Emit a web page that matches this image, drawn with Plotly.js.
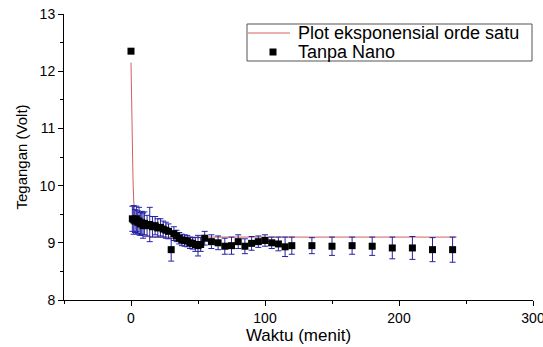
<!DOCTYPE html>
<html>
<head>
<meta charset="utf-8">
<script src="https://cdn.plot.ly/plotly-3.0.1.min.js"></script>
<style>html,body{margin:0;padding:0;background:#fff;}#chart{width:543px;height:347px;}</style>
</head>
<body>
<div id="chart"></div>
<script>
// Measured data: Tanpa Nano
var waktu = [0, 1, 2, 3, 4, 5, 6, 7, 8, 9, 10, 12, 14, 16, 18, 20, 22, 24, 26, 28, 30, 32, 34, 36, 38, 40, 42, 44, 46, 48, 50, 52, 55, 60, 65, 70, 75, 80, 85, 90, 95, 100, 105, 110, 115, 120, 135, 150, 165, 180, 195, 210, 225, 240];
var tegangan = [12.35, 9.42, 9.40, 9.38, 9.42, 9.36, 9.38, 9.33, 9.35, 9.30, 9.34, 9.30, 9.32, 9.28, 9.30, 9.26, 9.27, 9.24, 9.22, 9.20, 8.88, 9.16, 9.12, 9.08, 9.05, 9.04, 9.03, 9.00, 8.99, 8.97, 8.95, 8.97, 9.08, 9.02, 9.00, 8.94, 8.95, 9.02, 8.94, 8.99, 9.02, 9.04, 9.00, 8.98, 8.93, 8.95, 8.95, 8.94, 8.95, 8.94, 8.91, 8.91, 8.88, 8.88];
var galat = [0, 0.22, 0.25, 0.2, 0.22, 0.2, 0.24, 0.2, 0.2, 0.22, 0.2, 0.18, 0.3, 0.18, 0.16, 0.16, 0.15, 0.14, 0.14, 0.13, 0.2, 0.12, 0.1, 0.1, 0.1, 0.1, 0.1, 0.1, 0.1, 0.12, 0.18, 0.12, 0.12, 0.12, 0.12, 0.14, 0.15, 0.12, 0.13, 0.12, 0.1, 0.1, 0.1, 0.12, 0.17, 0.15, 0.14, 0.16, 0.15, 0.16, 0.19, 0.2, 0.21, 0.22];
// Fitted curve
var fitX = [0, 0.3, 0.6, 1, 1.5, 2, 3, 4, 6, 10, 20, 243];
var fitY = [12.15, 11.6, 11.1, 10.6, 10.1, 9.75, 9.4, 9.25, 9.14, 9.11, 9.1, 9.1];
var xTickVals = [0, 100, 200, 300];
var yTickVals = [8, 9, 10, 11, 12, 13];
var seriesNames = ['Plot eksponensial orde satu', 'Tanpa Nano'];

var FONT = 'Liberation Sans, Arial, sans-serif';
var FIT_COLOR = '#d06060';
var traces = [
  {x: fitX, y: fitY, type: 'scatter', mode: 'lines', name: seriesNames[0],
   line: {color: FIT_COLOR, width: 1}},
  {x: waktu, y: tegangan, type: 'scatter', mode: 'markers', name: seriesNames[1],
   marker: {symbol: 'square', size: 7, color: '#000000'},
   error_y: {type: 'data', array: galat, visible: true, color: '#2323a8', thickness: 1, width: 3}}
];

// Legend drawn in paper coordinates (plot area: 64..533 px wide, 14..300 px tall)
function px(X) { return (X - 64) / 469; }
function py(Y) { return (300 - Y) / 286; }
var legendShapes = [
  {type: 'rect', xref: 'paper', yref: 'paper', x0: px(247), x1: px(532), y0: py(61), y1: py(24),
   line: {color: '#555', width: 1}, fillcolor: '#fff', layer: 'above'},
  {type: 'line', xref: 'paper', yref: 'paper', x0: px(248), x1: px(290), y0: py(33), y1: py(33),
   line: {color: FIT_COLOR, width: 1}, layer: 'above'},
  {type: 'rect', xref: 'paper', yref: 'paper', x0: px(269.5), x1: px(276.5), y0: py(55.5), y1: py(48.5),
   line: {width: 0}, fillcolor: '#000', layer: 'above'}
];
var legendTexts = [
  {xref: 'paper', yref: 'paper', x: px(296), y: py(33), xanchor: 'left', yanchor: 'middle',
   text: seriesNames[0], showarrow: false, font: {family: FONT, size: 18, color: '#000'}},
  {xref: 'paper', yref: 'paper', x: px(296), y: py(52), xanchor: 'left', yanchor: 'middle',
   text: seriesNames[1], showarrow: false, font: {family: FONT, size: 18, color: '#000'}}
];

var layout = {
  width: 543, height: 347,
  margin: {l: 64, r: 10, t: 14, b: 47},
  paper_bgcolor: '#fff', plot_bgcolor: '#fff',
  font: {family: FONT, color: '#000', size: 14},
  showlegend: false,
  shapes: legendShapes,
  annotations: legendTexts,
  xaxis: {range: [-50, 300], tickvals: xTickVals, ticktext: xTickVals.map(String),
          showgrid: false, zeroline: false, showline: true, linecolor: '#000', linewidth: 1,
          ticks: 'outside', ticklen: 5, tickcolor: '#000', tickfont: {size: 14},
          ticklabeloverflow: 'allow',
          minor: {dtick: 50, tick0: 0, ticks: 'outside', ticklen: 3, tickcolor: '#000', showgrid: false},
          title: {text: 'Waktu (menit)', font: {size: 17}, standoff: 4}},
  yaxis: {range: [8, 13], tickvals: yTickVals, ticktext: yTickVals.map(String),
          showgrid: false, zeroline: false, showline: true, linecolor: '#000', linewidth: 1,
          ticks: 'outside', ticklen: 5, tickcolor: '#000', tickfont: {size: 14},
          ticklabeloverflow: 'allow',
          minor: {dtick: 0.5, tick0: 0, ticks: 'outside', ticklen: 3, tickcolor: '#000', showgrid: false},
          title: {text: 'Tegangan (Volt)', font: {size: 15}, standoff: 8}}
};
Plotly.newPlot('chart', traces, layout, {staticPlot: true, displayModeBar: false});
</script>
</body>
</html>
